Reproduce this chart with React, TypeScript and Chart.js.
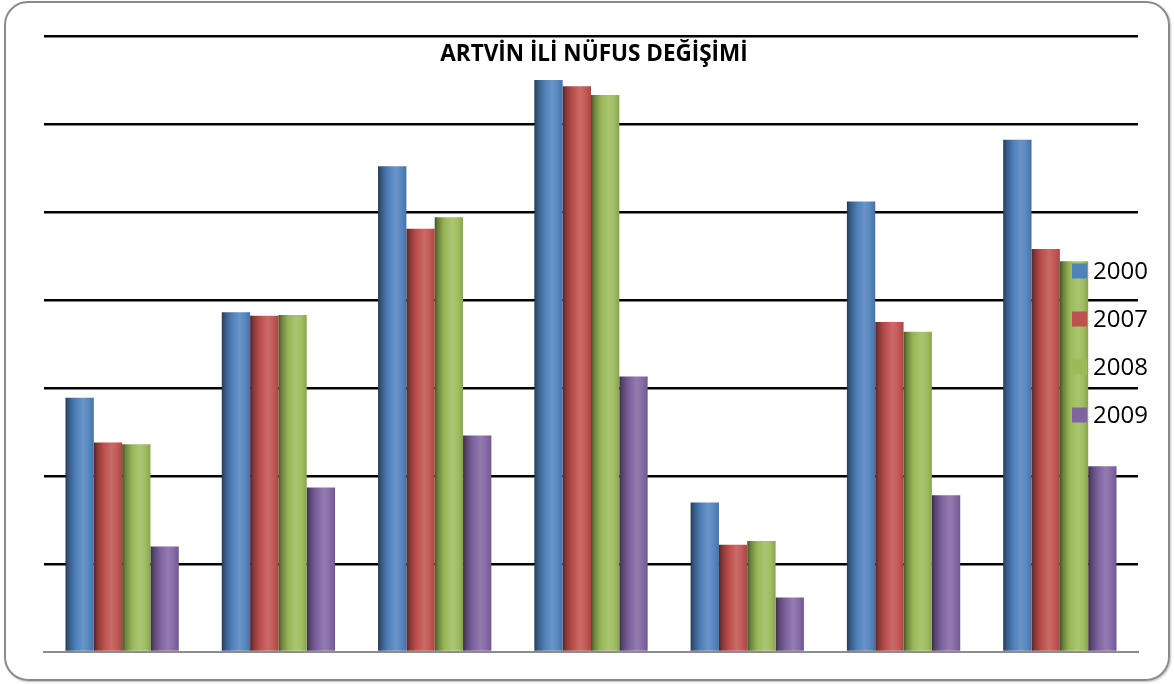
import React, { useEffect, useRef } from "react";
import { Chart, registerables } from "chart.js";

Chart.register(...registerables);

// ---- data ----
const categories = ["1", "2", "3", "4", "5", "6", "7"];
const seriesNames = ["2000", "2007", "2008", "2009"];
const values2000 = [2.89, 3.86, 5.52, 6.5, 1.7, 5.12, 5.82];
const values2007 = [2.38, 3.82, 4.81, 6.43, 1.22, 3.75, 4.58];
const values2008 = [2.36, 3.83, 4.94, 6.33, 1.26, 3.64, 4.44];
const values2009 = [1.2, 1.87, 2.46, 3.13, 0.62, 1.78, 2.11];
const yTickValues = [0, 1, 2, 3, 4, 5, 6, 7];
const titleText = "ARTVİN İLİ NÜFUS DEĞİŞİMİ";
const seriesColors = ["#4F81BD", "#C0504D", "#9BBB59", "#8064A2"];

const CATEGORY_PCT = 0.725;

function shade(hex: string, f: number): string {
  const n = parseInt(hex.slice(1), 16);
  let r = (n >> 16) & 255,
    g = (n >> 8) & 255,
    b = n & 255;
  if (f < 0) {
    r = r * (1 + f);
    g = g * (1 + f);
    b = b * (1 + f);
  } else {
    r = r + (255 - r) * f;
    g = g + (255 - g) * f;
    b = b + (255 - b) * f;
  }
  return `rgb(${Math.round(r)},${Math.round(g)},${Math.round(b)})`;
}

function barGradient(ctx: any) {
  const base = seriesColors[ctx.datasetIndex] || "#888";
  if (ctx.type !== "data") return base;
  const chart = ctx.chart;
  const area = chart.chartArea;
  const xs = chart.scales && chart.scales.x;
  if (!area || !xs) return base;
  const catW = area.width / categories.length;
  const groupW = catW * CATEGORY_PCT;
  const barW = groupW / seriesNames.length;
  const left = xs.getPixelForValue(ctx.dataIndex) - groupW / 2 + ctx.datasetIndex * barW;
  const g = chart.ctx.createLinearGradient(left, 0, left + barW, 0);
  g.addColorStop(0, shade(base, -0.55));
  g.addColorStop(0.12, shade(base, -0.3));
  g.addColorStop(0.35, shade(base, -0.02));
  g.addColorStop(0.62, shade(base, 0.15));
  g.addColorStop(0.82, shade(base, 0.05));
  g.addColorStop(1, shade(base, -0.12));
  return g;
}

const overlayPlugin = {
  id: "overlay",
  afterDatasetsDraw(chart: any) {
    const c = chart.ctx;
    c.save();
    // title
    c.fillStyle = "#000";
    c.font = "bold 22.5px 'Open Sans'";
    c.textAlign = "center";
    c.textBaseline = "middle";
    c.fillText(titleText, 594, 55);
    // legend
    c.font = "24px 'Open Sans'";
    c.textAlign = "left";
    seriesNames.forEach((name, i) => {
      const cy = 271 + i * 48;
      c.fillStyle = seriesColors[i];
      c.fillRect(1072, cy - 7.5, 15, 15);
      c.fillStyle = "#000";
      c.fillText(name, 1093, cy + 1);
    });
    c.restore();
  },
};

export default function App() {
  const ref = useRef<HTMLCanvasElement | null>(null);

  useEffect(() => {
    if (!ref.current) return;
    const datasets = [values2000, values2007, values2008, values2009].map((vals, i) => ({
      label: seriesNames[i],
      data: vals,
      backgroundColor: barGradient,
      borderWidth: 0,
      categoryPercentage: CATEGORY_PCT,
      barPercentage: 1.0,
    }));
    const chart = new Chart(ref.current, {
      type: "bar",
      data: { labels: categories, datasets },
      options: {
        animation: false,
        responsive: false,
        maintainAspectRatio: false,
        layout: { padding: { left: 44, right: 36, top: 36, bottom: 32 } },
        plugins: {
          legend: { display: false },
          title: { display: false },
          tooltip: { enabled: false },
        },
        scales: {
          x: {
            display: true,
            ticks: { display: false },
            grid: { display: false, drawTicks: false },
            border: { display: true, color: "#8c8c8c", width: 2 },
          },
          y: {
            min: yTickValues[0],
            max: yTickValues[yTickValues.length - 1],
            afterBuildTicks: (scale: any) => {
              scale.ticks = yTickValues.map((v) => ({ value: v }));
            },
            ticks: { display: false },
            grid: {
              drawTicks: false,
              lineWidth: 2.5,
              color: (ctx: any) => (ctx.tick && ctx.tick.value === 0 ? "rgba(0,0,0,0)" : "#000"),
            },
            border: { display: false },
          },
        },
      },
      plugins: [overlayPlugin],
    });
    return () => chart.destroy();
  }, []);

  return (
    <div
      style={{
        position: "absolute",
        left: 0,
        top: 0,
        width: 1174,
        height: 684,
        background: "#fff",
        overflow: "hidden",
      }}
    >
      <div
        style={{
          position: "absolute",
          left: 4,
          top: 1,
          width: 1166,
          height: 680,
          border: "2px solid #8a8a8a",
          borderRadius: 24,
          boxSizing: "border-box",
          boxShadow: "1px 1px 2px rgba(0,0,0,0.25)",
        }}
      />
      <canvas
        ref={ref}
        width={1174}
        height={684}
        style={{ position: "absolute", left: 0, top: 0, width: 1174, height: 684 }}
      />
    </div>
  );
}
